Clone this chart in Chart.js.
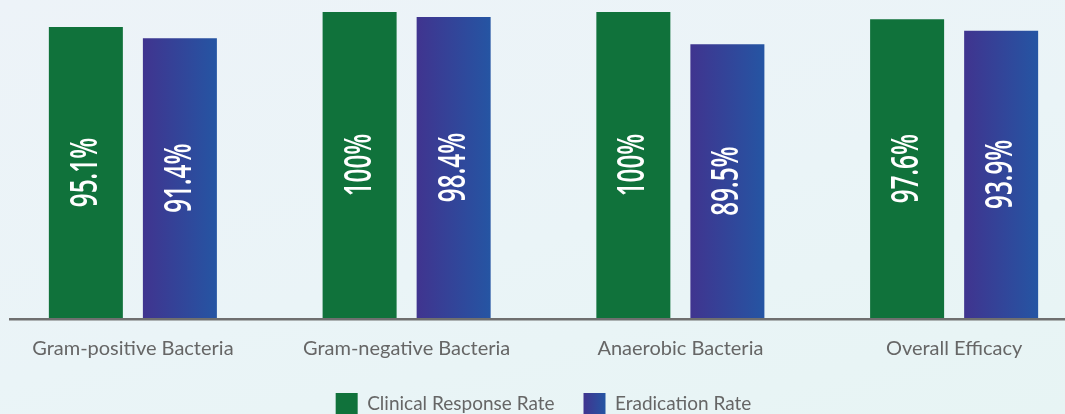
<!DOCTYPE html>
<html>
<head>
<meta charset="utf-8">
<script src="https://cdn.jsdelivr.net/npm/chart.js@4"></script>
<style>
html, body {
    margin: 0; padding: 0;
    width: 1065px; height: 414px; overflow: hidden;
    background: linear-gradient(165deg, #edf3f8 0%, #eaf4f7 55%, #e7f4f4 100%);
}
#wrap { position: absolute; left: -4px; top: 0; width: 1095px; height: 425px; }
</style>
</head>
<body>
<div id="wrap"><canvas id="efficacyChart"></canvas></div>
<script>
// данные
const categories = ['Gram-positive Bacteria', 'Gram-negative Bacteria', 'Anaerobic Bacteria', 'Overall Efficacy'];
const seriesNames = ['Clinical Response Rate', 'Eradication Rate'];
const clinicalRate = [95.1, 100, 100, 97.6];
const eradicationRate = [91.4, 98.4, 89.5, 93.9];

const CAT_PCT = 0.687;
const BAR_PCT = 0.787;
const BOX = 22;
const PURPLE_FLAT = 'rgb(50, 68, 155)';
let legendPurpleLeft = null;

function makePurple(g, x0, x1) {
    if (!isFinite(x0) || !isFinite(x1) || x1 <= x0) return PURPLE_FLAT;
    const grad = g.createLinearGradient(x0, 0, x1, 0);
    grad.addColorStop(0, '#40348f');
    grad.addColorStop(1, '#2555a3');
    return grad;
}

// горизонтальный градиент для фиолетовых столбцов
function purpleFill(c) {
    const chart = c.chart;
    if (c.type !== 'data') return PURPLE_FLAT;
    const sx = chart.scales && chart.scales.x;
    if (!sx) return PURPLE_FLAT;
    const slot = sx.width / categories.length * CAT_PCT / 2;
    const center = sx.getPixelForTick(c.dataIndex) + slot / 2;
    const w = slot * BAR_PCT;
    return makePurple(chart.ctx, center - w / 2, center + w / 2);
}

const valueLabels = {
    id: 'valueLabels',
    afterDatasetsDraw(chart) {
        const g = chart.ctx;
        chart.data.datasets.forEach((ds, di) => {
            chart.getDatasetMeta(di).data.forEach((bar, i) => {
                const cy = (bar.y + bar.base) / 2;
                g.save();
                g.translate(bar.x + 11, cy);
                g.rotate(-Math.PI / 2);
                g.scale(0.64, 1);
                g.font = '600 38px "Open Sans"';
                g.fillStyle = '#ffffff';
                g.textAlign = 'center';
                g.textBaseline = 'alphabetic';
                g.fillText(ds.data[i] + '%', 0, 0);
                g.restore();
            });
        });
    }
};

const baseline = {
    id: 'baseline',
    afterDatasetsDraw(chart) {
        const g = chart.ctx;
        const y = chart.chartArea.bottom + 1.2;
        g.save();
        g.strokeStyle = '#6f6f6f';
        g.lineWidth = 2.5;
        g.beginPath();
        g.moveTo(13, y);
        g.lineTo(chart.width, y);
        g.stroke();
        g.restore();
    }
};

const ctx = document.getElementById('efficacyChart').getContext('2d');
const chart = new Chart(ctx, {
    type: 'bar',
    data: {
        labels: categories,
        datasets: [{
            label: seriesNames[0],
            data: clinicalRate,
            backgroundColor: '#10723b',
            borderWidth: 0,
            categoryPercentage: CAT_PCT,
            barPercentage: BAR_PCT
        }, {
            label: seriesNames[1],
            data: eradicationRate,
            backgroundColor: purpleFill,
            borderWidth: 0,
            categoryPercentage: CAT_PCT,
            barPercentage: BAR_PCT
        }]
    },
    options: {
        responsive: true,
        maintainAspectRatio: false,
        animation: false,
        devicePixelRatio: 1,
        layout: { padding: { top: 12, left: 0, right: 0, bottom: 0 } },
        plugins: {
            tooltip: { enabled: false },
            legend: {
                position: 'bottom',
                labels: {
                    boxWidth: BOX,
                    boxHeight: BOX,
                    padding: 29,
                    color: '#666666',
                    font: { family: 'Lato', size: 19 },
                    generateLabels(chart) {
                        const items = Chart.defaults.plugins.legend.labels.generateLabels(chart);
                        if (items[1] && legendPurpleLeft !== null) {
                            items[1].fillStyle = makePurple(chart.ctx, legendPurpleLeft, legendPurpleLeft + BOX);
                        }
                        return items;
                    }
                }
            }
        },
        scales: {
            y: { display: false, min: 0, max: 100 },
            x: {
                grid: { display: false, drawTicks: false },
                border: { display: false },
                ticks: {
                    color: '#666666',
                    padding: 19,
                    font: { family: 'Lato', size: 20 }
                },
                afterFit: s => { s.height = 46; }
            }
        }
    },
    plugins: [baseline, valueLabels]
});

// второй проход: градиент квадратика легенды по её реальному положению
const hb = chart.legend && chart.legend.legendHitBoxes[1];
if (hb) legendPurpleLeft = hb.left;
chart.update();
</script>
</body>
</html>
